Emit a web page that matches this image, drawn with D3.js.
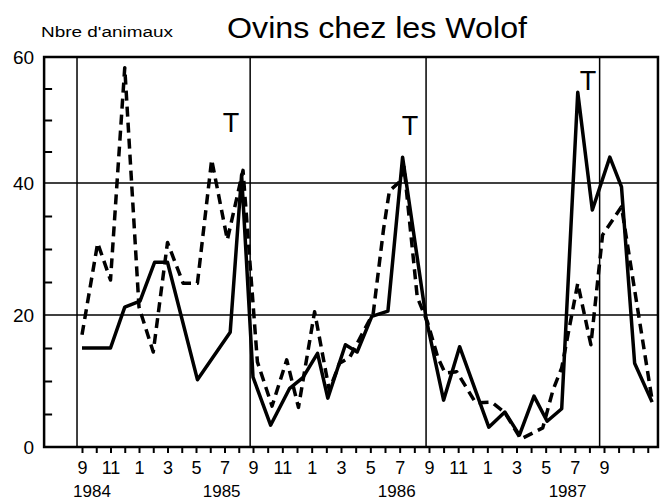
<!DOCTYPE html>
<html>
<head>
<meta charset="utf-8">
<script src="https://cdn.jsdelivr.net/npm/d3@7"></script>
<style>
  body { margin: 0; background: #fff; }
  text { font-family: "Liberation Sans", Arial, sans-serif; fill: #000; }
</style>
</head>
<body>
<div class="canvas"></div>
<script>
// month index: 0 = Sept 1984
const solidMonths = [0, 2, 3, 4.07, 5.1, 6, 8.1, 10.4, 11.2, 12, 13.2, 14.5, 15.4, 16.4, 17.1, 18.3, 19.1, 20.1, 21.2, 22.2, 23.8, 25, 26.1, 28.1, 29.2, 30.2, 31.2, 32.1, 33.1, 34.2, 35.2, 36.4, 37.2, 38.1, 39.3];
const solidValues = [15, 15, 21.2, 22.1, 28, 28, 10.2, 17.4, 41.3, 10.6, 3.3, 8.9, 10.5, 14.2, 7.4, 15.5, 14.4, 19.8, 20.6, 44.1, 19.5, 7.1, 15.2, 3, 5.3, 1.8, 7.7, 3.9, 5.8, 54.4, 35.9, 44.1, 39.4, 12.7, 6.8];

const dashedMonths = [0, 1.1, 2, 3, 4, 5, 6, 7.1, 8.1, 9.1, 10.2, 11.3, 12.3, 13.3, 14.3, 15.1, 16.2, 17.2, 17.9, 18.6, 20.2, 20.9, 21.3, 22, 22.3, 23.2, 23.9, 24.6, 25.1, 25.9, 27.2, 28.3, 29.2, 30.3, 31.8, 32.5, 33.1, 34.2, 35.1, 35.9, 37.2, 38.1, 39.3];
const dashedValues = [17, 30.9, 25.3, 58.3, 21.2, 14.4, 31, 24.8, 24.8, 43.7, 31.4, 42, 12.9, 6.2, 13.2, 6, 20.5, 8.6, 12.7, 13.6, 20.3, 33, 38.8, 40.2, 42.5, 22.7, 18.9, 13.6, 11.2, 11.4, 6.7, 6.8, 5.2, 1.2, 2.9, 8.6, 12, 24.8, 15.5, 32.1, 36.4, 23.8, 7.1];

const monthLabels = ['9', '11', '1', '3', '5', '7', '9', '11', '1', '3', '5', '7', '9', '11', '1', '3', '5', '7', '9'];
const yearLabels = ['1984', '1985', '1986', '1987'];
const yearPos = [0.7, 9.8, 21.8, 33.5];
const separators = [-0.35, 11.8, 23.8, 35.7];
const yTicks = [0, 20, 40, 60];
const yMinor = [5, 10, 15, 25, 30, 35, 45, 50, 55];
const tMonths = [10.46, 22.7, 34.9];
const tValues = [48.1, 47.6, 54.8];

const width = 661, height = 502;

const svg = d3.select('.canvas')
  .append('svg')
    .attr('width', width)
    .attr('height', height);

// scales (piecewise to follow the drawn grid)
const x = d3.scaleLinear()
  .domain([0, 12, 24, 36])
  .range([82, 253, 429, 604]);

const y = d3.scaleLinear()
  .domain([0, 20, 40, 60])
  .range([447, 315, 183, 57]);

const left = x(-2.66), right = x(39.7);

// grid lines
svg.selectAll('.grid')
  .data([20, 40])
  .enter().append('line')
    .attr('x1', left).attr('x2', right)
    .attr('y1', d => y(d)).attr('y2', d => y(d))
    .attr('stroke', '#000').attr('stroke-width', 1.5);

svg.selectAll('.sep')
  .data(separators)
  .enter().append('line')
    .attr('x1', d => x(d)).attr('x2', d => x(d))
    .attr('y1', y(60)).attr('y2', y(0))
    .attr('stroke', '#000').attr('stroke-width', 1.5);

// frame
svg.append('rect')
  .attr('x', left).attr('y', y(60))
  .attr('width', right - left).attr('height', y(0) - y(60))
  .attr('fill', 'none').attr('stroke', '#000').attr('stroke-width', 2.5);

// x axis
const xAxis = d3.axisBottom(x)
  .tickValues(d3.range(0, 40))
  .tickSize(6)
  .tickPadding(8)
  .tickFormat(d => d % 2 === 0 && monthLabels[d / 2] ? monthLabels[d / 2] : '');

const xAxisGroup = svg.append('g')
  .attr('transform', `translate(0, ${y(0)})`)
  .call(xAxis);
xAxisGroup.select('.domain').remove();
xAxisGroup.selectAll('line').attr('stroke-width', 2);
xAxisGroup.selectAll('text').attr('font-size', 18).attr('font-family', null);

svg.selectAll('.year')
  .data(yearLabels)
  .enter().append('text')
    .attr('x', (d, i) => x(yearPos[i]))
    .attr('y', 497)
    .attr('text-anchor', 'middle')
    .attr('font-size', 17)
    .text(d => d);

// y axis
const yAxis = d3.axisLeft(y)
  .tickValues(yTicks)
  .tickSize(0)
  .tickPadding(10);

const yAxisGroup = svg.append('g')
  .attr('transform', `translate(${left}, 0)`)
  .call(yAxis);
yAxisGroup.select('.domain').remove();
yAxisGroup.selectAll('text').attr('font-size', 19).attr('font-family', null);

const yMinorGroup = svg.append('g')
  .attr('transform', `translate(${left}, 0)`)
  .call(d3.axisRight(y).tickValues(yMinor).tickSize(8).tickFormat(''));
yMinorGroup.select('.domain').remove();
yMinorGroup.selectAll('line').attr('stroke-width', 2);

// lines
const line = d3.line()
  .x(d => x(d[0]))
  .y(d => y(d[1]));

svg.append('path')
  .datum(solidMonths.map((m, i) => [m, solidValues[i]]))
  .attr('d', line)
  .attr('fill', 'none')
  .attr('stroke', '#000')
  .attr('stroke-width', 3.5)
  .attr('stroke-linejoin', 'round');

svg.append('path')
  .datum(dashedMonths.map((m, i) => [m, dashedValues[i]]))
  .attr('d', line)
  .attr('fill', 'none')
  .attr('stroke', '#000')
  .attr('stroke-width', 3.5)
  .attr('stroke-dasharray', '10,6')
  .attr('stroke-linejoin', 'round');

// T marks
svg.selectAll('.tmark')
  .data(tMonths)
  .enter().append('text')
    .attr('x', d => x(d))
    .attr('y', (d, i) => y(tValues[i]))
    .attr('text-anchor', 'middle')
    .attr('font-size', 27)
    .text('T');

// titles
svg.append('text')
  .attr('x', 227).attr('y', 38)
  .attr('font-size', 29)
  .attr('textLength', 300)
  .attr('lengthAdjust', 'spacingAndGlyphs')
  .text('Ovins chez les Wolof');

svg.append('text')
  .attr('x', 41).attr('y', 37)
  .attr('font-size', 14)
  .attr('textLength', 132)
  .attr('lengthAdjust', 'spacingAndGlyphs')
  .text("Nbre d'animaux");
</script>
</body>
</html>
